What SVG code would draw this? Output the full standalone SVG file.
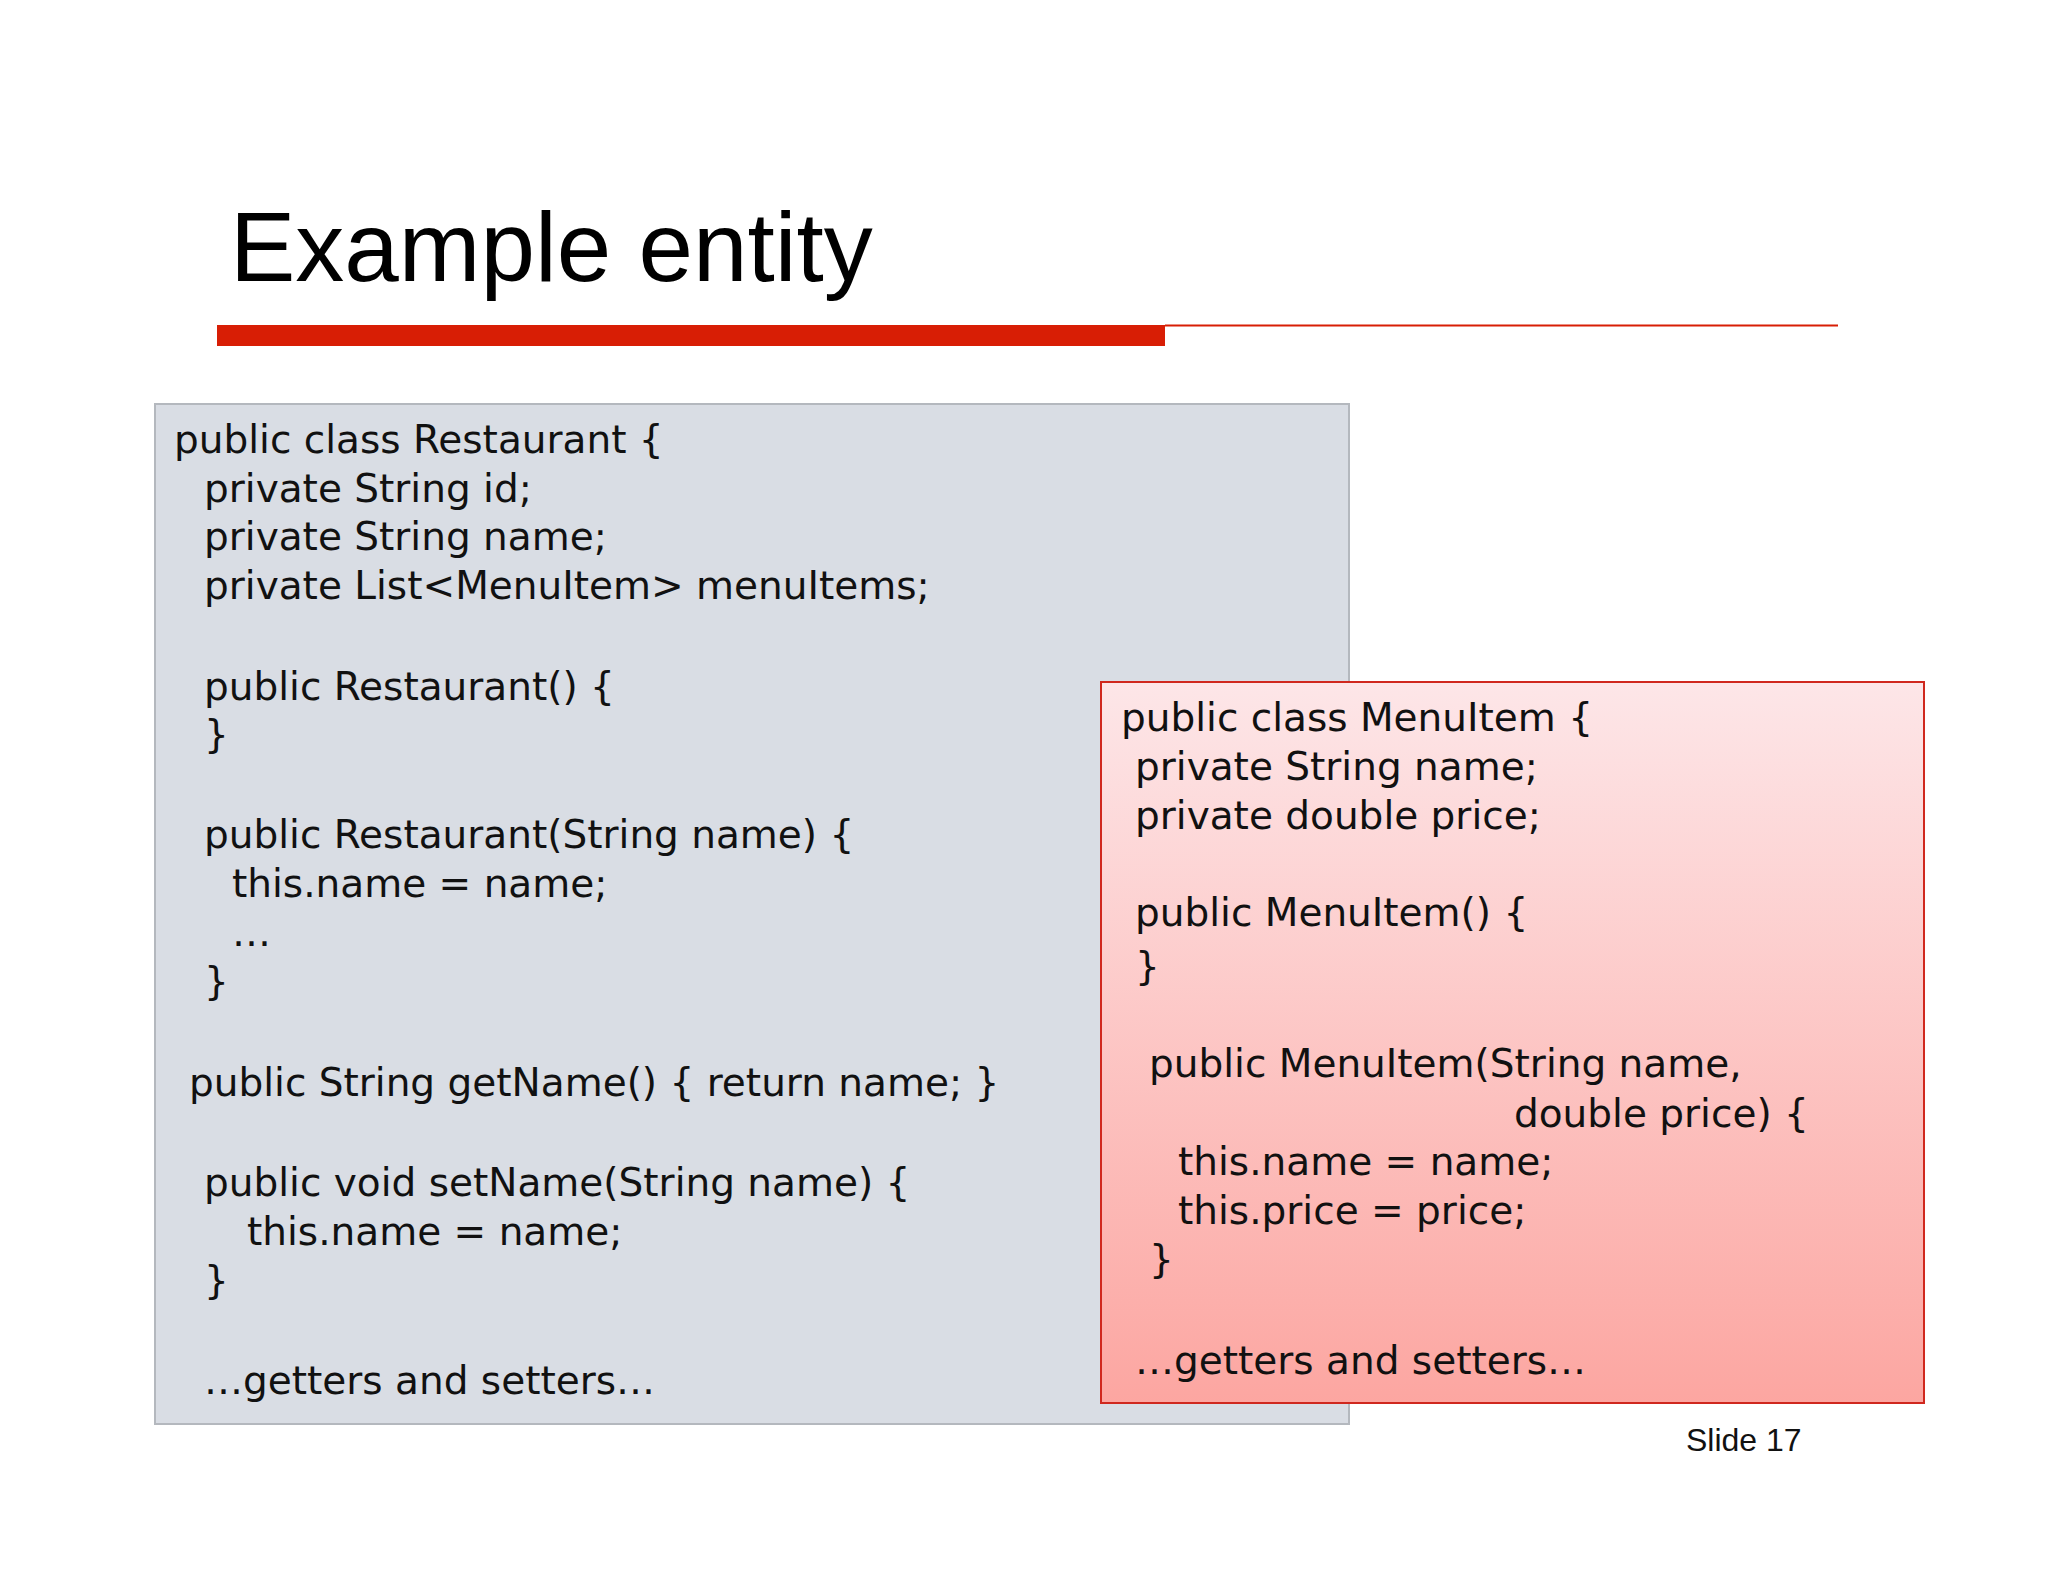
<svg xmlns="http://www.w3.org/2000/svg" width="2048" height="1582" viewBox="0 0 2048 1582">
<style>
.c{font-family:"DejaVu Sans",Verdana,sans-serif;font-size:39px;fill:#111}
</style>
<defs>
<linearGradient id="rg" x1="0" y1="0" x2="0" y2="1">
<stop offset="0" stop-color="#fde6e8"/><stop offset="1" stop-color="#fca6a1"/>
</linearGradient>
</defs>
<rect width="2048" height="1582" fill="#fff"/>
<text x="230" y="281" font-family="Liberation Sans,Arial,sans-serif" font-size="98" fill="#000">Example entity</text>
<rect x="217" y="325" width="948" height="21" fill="#d81e05"/>
<line x1="1165" y1="325.5" x2="1838" y2="325.5" stroke="#d81e05" stroke-width="2"/>
<g id="restaurant">
<rect x="155" y="404" width="1194" height="1020" fill="#d9dde4" stroke="#b4b8be" stroke-width="2"/>
<text class="c" x="174" y="453">public class Restaurant {</text>
<text class="c" x="204" y="502">private String id;</text>
<text class="c" x="204" y="550">private String name;</text>
<text class="c" x="204" y="599">private List&lt;MenuItem&gt; menuItems;</text>
<text class="c" x="204" y="700">public Restaurant() {</text>
<text class="c" x="204" y="748">}</text>
<text class="c" x="204" y="848">public Restaurant(String name) {</text>
<text class="c" x="232" y="897">this.name = name;</text>
<text class="c" x="232" y="946">…</text>
<text class="c" x="204" y="995">}</text>
<text class="c" x="189" y="1096">public String getName() { return name; }</text>
<text class="c" x="204" y="1196">public void setName(String name) {</text>
<text class="c" x="247" y="1245">this.name = name;</text>
<text class="c" x="204" y="1294">}</text>
<text class="c" x="204" y="1394">…getters and setters…</text>
</g>
<g id="menuitem">
<rect x="1101" y="682" width="823" height="721" fill="url(#rg)" stroke="#d0281e" stroke-width="2"/>
<text class="c" x="1121" y="731">public class MenuItem {</text>
<text class="c" x="1135" y="780">private String name;</text>
<text class="c" x="1135" y="829">private double price;</text>
<text class="c" x="1135" y="926">public MenuItem() {</text>
<text class="c" x="1135" y="980">}</text>
<text class="c" x="1149" y="1077">public MenuItem(String name,</text>
<text class="c" x="1514" y="1127">double price) {</text>
<text class="c" x="1178" y="1175">this.name = name;</text>
<text class="c" x="1178" y="1224">this.price = price;</text>
<text class="c" x="1149" y="1273">}</text>
<text class="c" x="1135" y="1374">…getters and setters…</text>
</g>
<text x="1686" y="1451" font-family="Liberation Sans,Arial,sans-serif" font-size="32" fill="#111">Slide 17</text>
</svg>
